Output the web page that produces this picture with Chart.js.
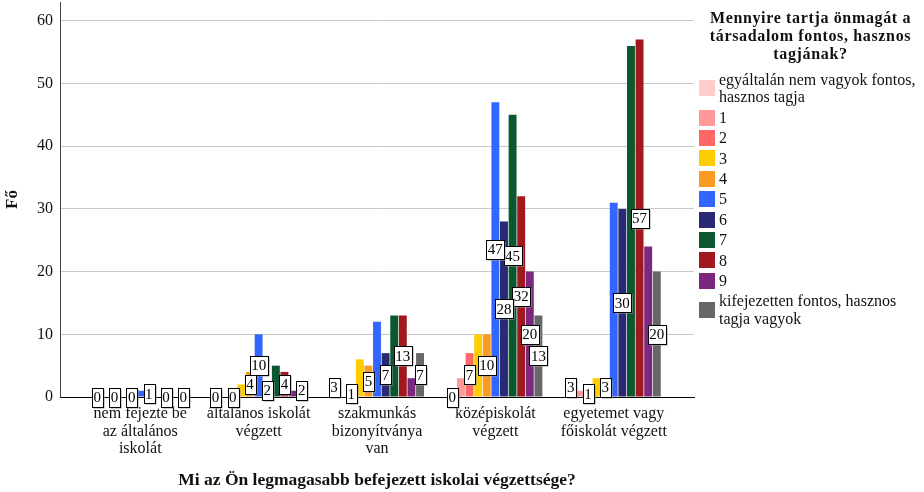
<!DOCTYPE html>
<html>
<head>
<meta charset="utf-8">
<script src="https://cdn.jsdelivr.net/npm/chart.js@4/dist/chart.umd.min.js"></script>
<style>
  body { margin: 0; background: #fff; }
  #wrap { position: relative; width: 924px; height: 492px; }
  #legend { position: absolute; left: 697px; top: 9px; width: 227px; font-family: "Liberation Serif", serif; color: #111; }
  #legend .title { font-weight: bold; font-size: 16px; line-height: 18px; text-align: center; letter-spacing: 0.65px; margin: 0 0 8px 0; }
  #legend .row { display: flex; align-items: center; margin-bottom: 3px; }
  #legend .sw { width: 16px; height: 16px; flex: 0 0 16px; margin-left: 2px; }
  #legend .txt { font-size: 16px; line-height: 17.4px; margin-left: 4px; width: 203px; }
</style>
</head>
<body>
<div id="wrap">
  <canvas id="chart" width="924" height="492"></canvas>
  <div id="legend"></div>
</div>
<script>
const categories = [
  ["nem fejezte be", "az általános", "iskolát"],
  ["általános iskolát", "végzett"],
  ["szakmunkás", "bizonyítványa", "van"],
  ["középiskolát", "végzett"],
  ["egyetemet vagy", "főiskolát végzett"]
];

const seriesNames = [
  "egyáltalán nem vagyok fontos, hasznos tagja",
  "1", "2", "3", "4", "5", "6", "7", "8", "9",
  "kifejezetten fontos, hasznos tagja vagyok"
];

// counts per answer, one value per category
const v0  = [0, 0, 3, 0, 3];
const v1  = [0, 0, 0, 3, 1];
const v2  = [0, 0, 1, 7, 1];
const v3  = [0, 2, 6, 10, 3];
const v4  = [0, 4, 5, 10, 3];
const v5  = [1, 10, 12, 47, 31];
const v6  = [1, 2, 7, 28, 30];
const v7  = [0, 5, 13, 45, 56];
const v8  = [0, 4, 13, 32, 57];
const v9  = [0, 1, 3, 20, 24];
const v10 = [0, 2, 7, 13, 20];
const seriesValues = [v0, v1, v2, v3, v4, v5, v6, v7, v8, v9, v10];

const colors = ['#ffcccc', '#ff9999', '#ff6666', '#ffcc00', '#f99a22', '#3366ff',
                '#282a73', '#0b5730', '#a1181f', '#7c2880', '#676767'];

const yTicks = [0, 10, 20, 30, 40, 50, 60];

const font = '"Liberation Serif", "Times New Roman", serif';

// SPSS style boxed labels, skipping the ones that would collide
const valueLabels = {
  id: 'valueLabels',
  afterDatasetsDraw(chart) {
    const ctx = chart.ctx;
    ctx.save();
    ctx.font = '15px ' + font;
    ctx.textAlign = 'center';
    ctx.textBaseline = 'middle';
    const n = chart.data.datasets.length;
    const tol = 1.5;
    categories.forEach((c, ci) => {
      const placed = [];
      for (let di = n - 1; di >= 0; di--) {
        const bar = chart.getDatasetMeta(di).data[ci];
        const txt = String(seriesValues[di][ci]);
        const w = ctx.measureText(txt).width + 3;
        const h = 19;
        const cx = bar.x, cy = (bar.y + bar.base) / 2;
        const box = { x1: cx - w / 2, x2: cx + w / 2, y1: cy - h / 2, y2: cy + h / 2, txt, cx, cy };
        const hit = placed.some(b => box.x1 < b.x2 - tol && box.x2 > b.x1 + tol &&
                                     box.y1 < b.y2 - tol && box.y2 > b.y1 + tol);
        if (!hit) placed.push(box);
      }
      placed.forEach(b => {
        const x = Math.round(b.x1) + 0.5, y = Math.round(b.y1) + 0.5;
        const w = Math.round(b.x2 - b.x1), h = Math.round(b.y2 - b.y1);
        ctx.fillStyle = '#a0a0a0';
        ctx.fillRect(x + 1, y + 1, w, h);
        ctx.fillStyle = '#fff';
        ctx.fillRect(x, y, w, h);
        ctx.strokeStyle = '#000';
        ctx.lineWidth = 1;
        ctx.strokeRect(x, y, w, h);
        ctx.fillStyle = '#000';
        ctx.fillText(b.txt, b.cx, b.cy + 1);
      });
    });
    ctx.restore();
  }
};

const datasets = seriesNames.map((name, si) => ({
  label: name,
  data: seriesValues[si].map((y, x) => ({ x, y })),
  backgroundColor: colors[si],
  borderWidth: 0,
  barPercentage: 0.92,
  categoryPercentage: 0.8
}));

new Chart(document.getElementById('chart'), {
  type: 'bar',
  data: { datasets },
  plugins: [valueLabels],
  options: {
    responsive: false,
    animation: false,
    layout: { padding: { top: 2, right: 230, left: 0, bottom: 0 } },
    plugins: {
      legend: { display: false },
      tooltip: { enabled: false }
    },
    scales: {
      x: {
        type: 'linear',
        min: -0.678,
        max: 4.678,
        offset: false,
        afterFit: s => { s.height = 95; },
        grid: { display: false, drawTicks: false },
        border: { display: true, color: '#000', width: 1 },
        ticks: {
          stepSize: 1,
          includeBounds: false,
          autoSkip: false,
          maxRotation: 0,
          padding: 8,
          color: '#111',
          font: { family: font, size: 16, lineHeight: 1.1 },
          callback: v => (Number.isInteger(v) && categories[v]) ? categories[v] : ''
        },
        title: {
          display: true,
          text: 'Mi az Ön legmagasabb befejezett iskolai végzettsége?',
          color: '#111',
          font: { family: font, size: 17.5, weight: 'bold' },
          padding: { top: 0, bottom: 1 }
        }
      },
      y: {
        min: 0,
        max: 63,
        afterFit: s => { s.width = 60; s.paddingTop = 0; s.paddingBottom = 0; },
        afterBuildTicks: s => { s.ticks = yTicks.map(value => ({ value })); },
        grid: { color: '#c8c8c8', drawTicks: false },
        border: { display: true, color: '#444', width: 1 },
        ticks: {
          padding: 7,
          color: '#111',
          font: { family: font, size: 16 }
        },
        title: {
          display: true,
          text: 'Fő',
          color: '#111',
          font: { family: font, size: 17, weight: 'bold' },
          padding: { top: 2, bottom: 0 }
        }
      }
    }
  }
});

// legend on the right, built from the same series
const legend = document.getElementById('legend');
legend.innerHTML = '<div class="title">Mennyire tartja önmagát a<br>társadalom fontos, hasznos<br>tagjának?</div>' +
  seriesNames.map((name, i) =>
    `<div class="row"><span class="sw" style="background:${colors[i]}"></span><span class="txt">${name}</span></div>`
  ).join('');
</script>
</body>
</html>
